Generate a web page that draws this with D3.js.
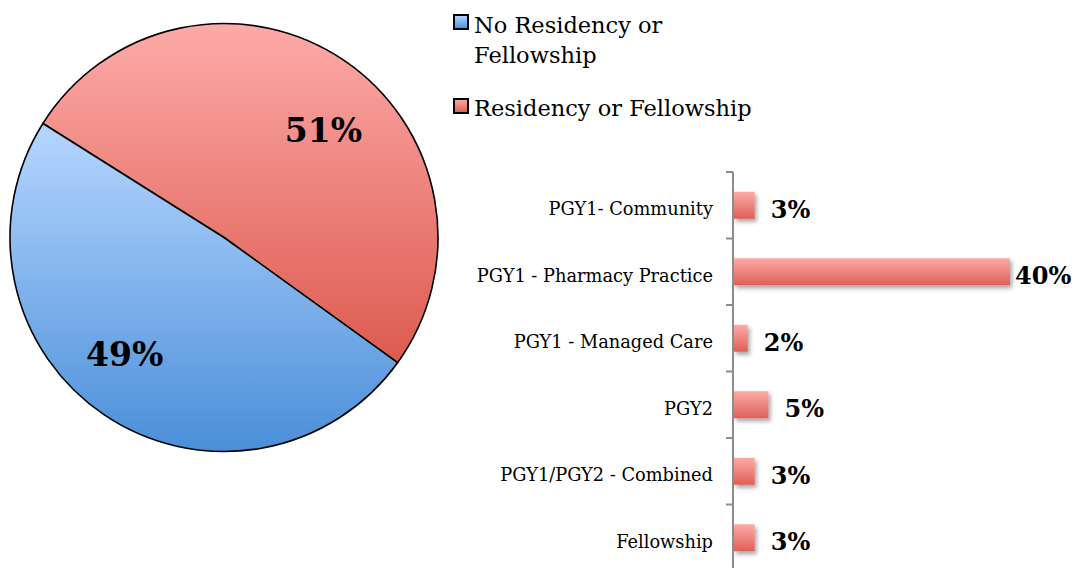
<!DOCTYPE html>
<html>
<head>
<meta charset="utf-8">
<script src="https://cdn.jsdelivr.net/npm/d3@7"></script>
<style>
  html, body { margin: 0; padding: 0; background: #ffffff; }
  svg { display: block; }
  text { font-family: "DejaVu Serif", serif; fill: #000; }
</style>
</head>
<body>
<svg id="chart" width="1074" height="568"></svg>
<script>
// ---- data ----
const pieCategories = ["Residency or Fellowship", "No Residency or Fellowship"];
const pieValues = [51, 49];
const legendOrder = ["No Residency or Fellowship", "Residency or Fellowship"];
const barCategories = ["PGY1- Community", "PGY1 - Pharmacy Practice", "PGY1 - Managed Care", "PGY2", "PGY1/PGY2 - Combined", "Fellowship"];
const barValues = [3, 40, 2, 5, 3, 3];

const svg = d3.select("#chart");
const defs = svg.append("defs");

function grad(id, c1, c2) {
  const g = defs.append("linearGradient").attr("id", id)
    .attr("x1", 0).attr("y1", 0).attr("x2", 0).attr("y2", 1);
  g.append("stop").attr("offset", "0%").attr("stop-color", c1);
  g.append("stop").attr("offset", "100%").attr("stop-color", c2);
}
grad("gRed", "#fdaaa8", "#dc5b4f");
grad("gBlue", "#b6d6ff", "#4a8fd8");
grad("gBar", "#fdaba7", "#df5f58");

const shadow = defs.append("filter").attr("id", "shadow")
  .attr("x", "-20%").attr("y", "-30%").attr("width", "160%").attr("height", "180%");
shadow.append("feDropShadow").attr("dx", 2).attr("dy", 3).attr("stdDeviation", 2)
  .attr("flood-color", "#000").attr("flood-opacity", 0.35);

const colorFor = { "Residency or Fellowship": "url(#gRed)", "No Residency or Fellowship": "url(#gBlue)" };

// ---- pie ----
const cx = 224, cy = 237.5, R = 214;
const startA = -57.8 * Math.PI / 180;
const pie = d3.pie().sort(null).value(d => d.v)
  .startAngle(startA).endAngle(startA + 2 * Math.PI);
const arcs = pie(pieCategories.map((c, i) => ({ c, v: pieValues[i] })));
const arc = d3.arc().innerRadius(0).outerRadius(R);
const labelArc = d3.arc().innerRadius(150).outerRadius(150);
const labelShift = 7.5 * Math.PI / 180;

const pg = svg.append("g").attr("transform", `translate(${cx},${cy})`);
pg.selectAll("path.slice").data(arcs).join("path")
  .attr("class", "slice")
  .attr("d", arc)
  .attr("fill", d => colorFor[d.data.c])
  .attr("stroke", "#000").attr("stroke-width", 1.6).attr("stroke-linejoin", "round");

pg.selectAll("text.plabel").data(arcs).join("text")
  .attr("class", "plabel")
  .attr("transform", d => {
    const [x, y] = labelArc.centroid({ startAngle: d.startAngle + labelShift, endAngle: d.endAngle + labelShift });
    return `translate(${x},${y + 5})`;
  })
  .attr("text-anchor", "middle").attr("dominant-baseline", "central")
  .attr("font-size", 33).attr("font-weight", "bold")
  .text(d => d.data.v + "%");

// ---- legend ----
const lg = svg.append("g");
const legendY = [30, 114];
legendOrder.forEach((c, i) => {
  lg.append("rect").attr("x", 454).attr("y", legendY[i] - 15).attr("width", 14).attr("height", 14)
    .attr("fill", colorFor[c]).attr("stroke", "#000").attr("stroke-width", 2);
});
const lt1 = lg.append("text").attr("x", 474).attr("y", 33).attr("font-size", 22.5);
lt1.append("tspan").attr("x", 474).text("No Residency or");
lt1.append("tspan").attr("x", 474).attr("dy", 30).text("Fellowship");
lg.append("text").attr("x", 474).attr("y", 116).attr("font-size", 22.5).text(legendOrder[1]);

// ---- bar chart ----
const axisX = 733;
const x = d3.scaleLinear().domain([0, 40]).range([axisX + 1, 1010]);
const y = d3.scaleBand().domain(barCategories).range([172, 571]).paddingInner(0.594).paddingOuter(0.297);

const bg = svg.append("g");
bg.selectAll("rect.bar").data(barCategories).join("rect")
  .attr("class", "bar")
  .attr("x", x(0))
  .attr("y", c => y(c))
  .attr("width", (c, i) => x(barValues[i]) - x(0))
  .attr("height", y.bandwidth())
  .attr("fill", "url(#gBar)")
  .attr("filter", "url(#shadow)");

// axis with category labels
const axis = d3.axisLeft(y).tickSize(0).tickPadding(20);
const ag = svg.append("g").attr("transform", `translate(${axisX},0)`).call(axis);
ag.select(".domain").remove();
ag.selectAll("text").attr("font-size", 17.8).attr("font-family", "DejaVu Serif, serif")
  .attr("fill", "#000").attr("dy", "0.55em");

// axis line and boundary ticks
const bounds = barCategories.map(c => y(c) - y.step() * y.paddingInner() / 2).concat([y.range()[1]]);
svg.append("line").attr("x1", axisX).attr("x2", axisX).attr("y1", bounds[0]).attr("y2", 568)
  .attr("stroke", "#8c8c8c").attr("stroke-width", 2);
svg.selectAll("line.btick").data(bounds).join("line").attr("class", "btick")
  .attr("x1", axisX - 7).attr("x2", axisX).attr("y1", d => d).attr("y2", d => d)
  .attr("stroke", "#8c8c8c").attr("stroke-width", 2);

// value labels
bg.selectAll("text.vlabel").data(barCategories).join("text")
  .attr("class", "vlabel")
  .attr("x", (c, i) => x(barValues[i]) + (barValues[i] > 20 ? 5 : 16))
  .attr("y", c => y(c) + y.bandwidth() / 2 + 4)
  .attr("dominant-baseline", "central")
  .attr("font-size", 24).attr("font-weight", "bold")
  .text((c, i) => barValues[i] + "%");
</script>
</body>
</html>
